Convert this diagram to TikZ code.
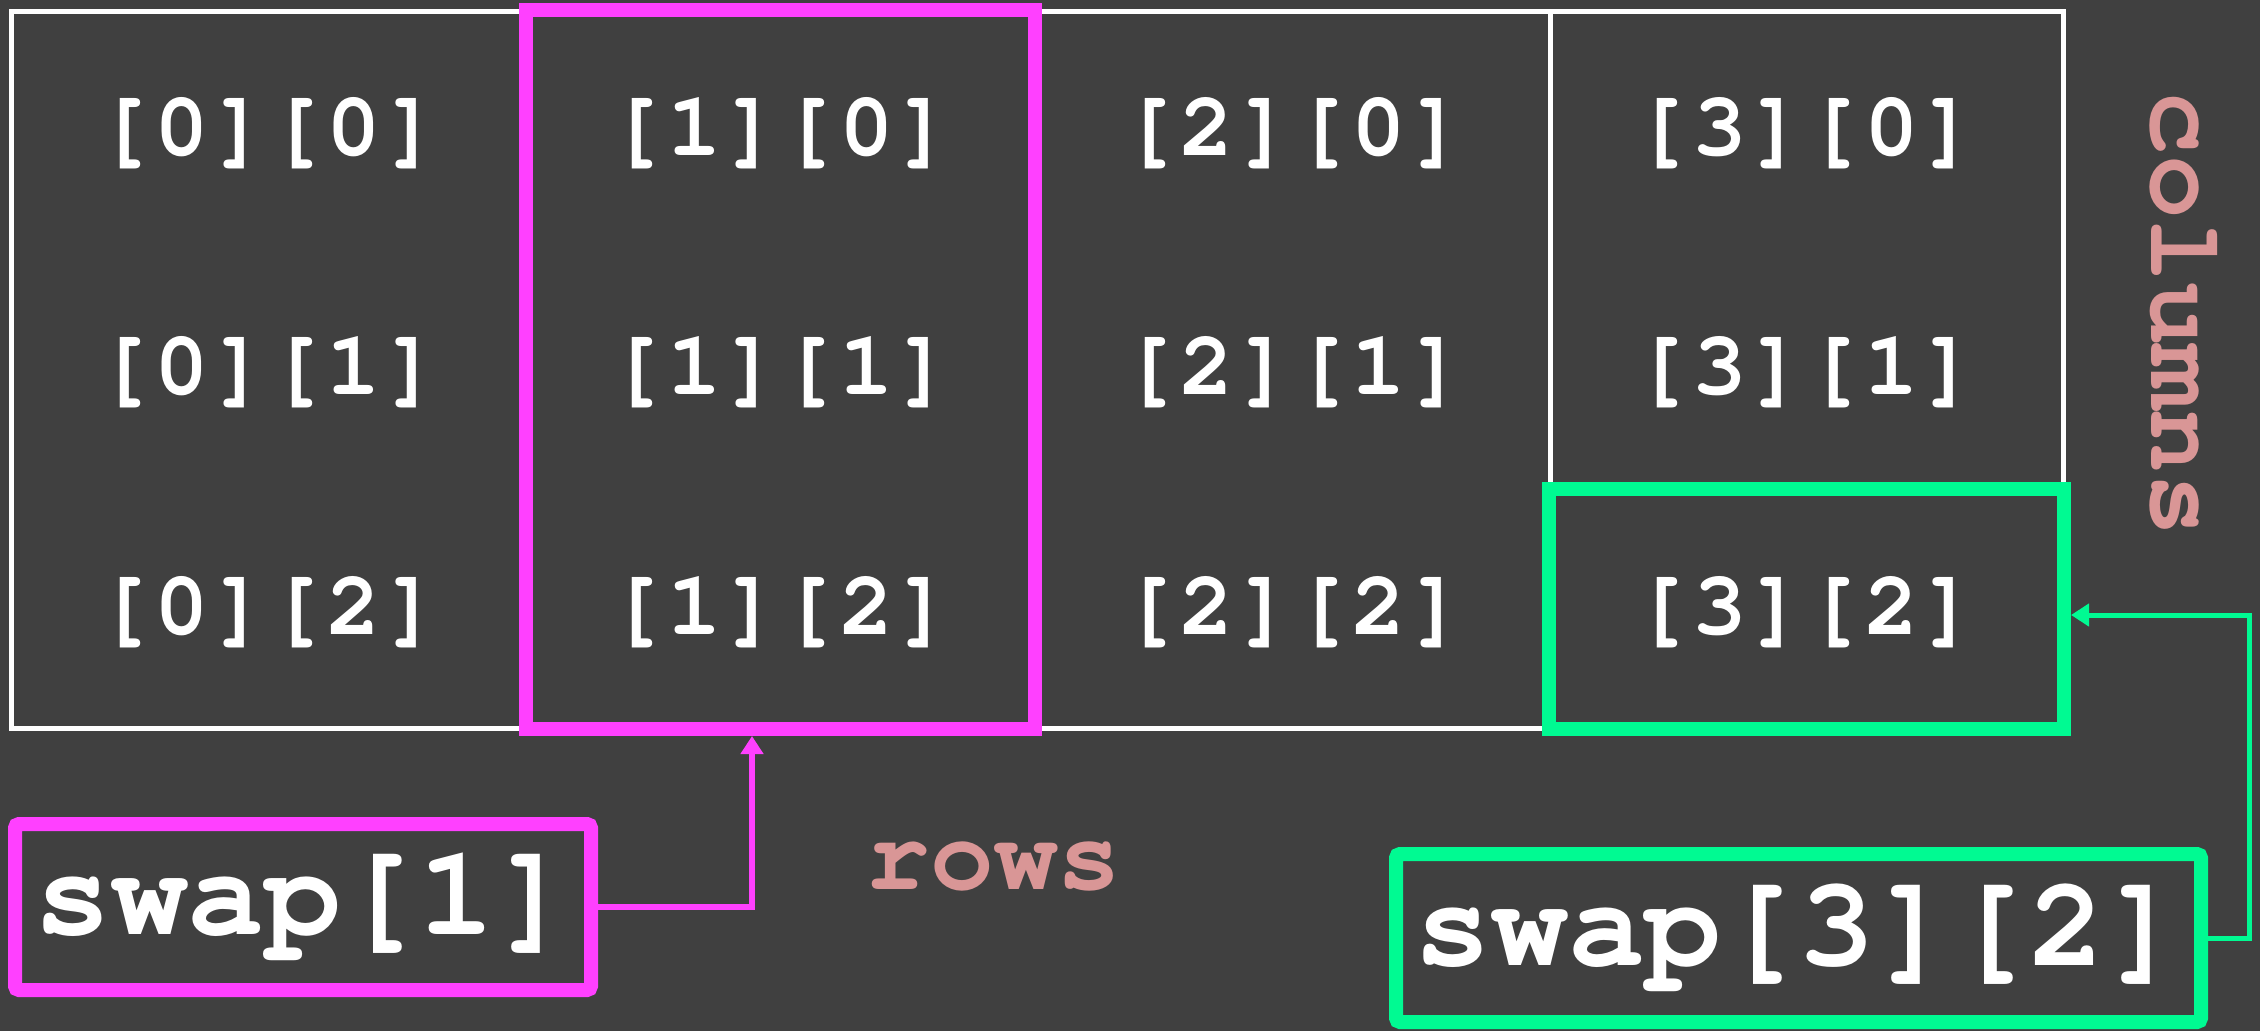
\documentclass[tikz,border=0pt]{standalone}
\usepackage{fontspec}
\newfontfamily\mono{texgyrecursor}[Extension=.otf, UprightFont=*-regular, BoldFont=*-bold]
\newfontfamily\monosp{texgyrecursor}[Extension=.otf, UprightFont=*-regular, BoldFont=*-bold, LetterSpace=3]
\usetikzlibrary{arrows.meta}
\definecolor{bg}{HTML}{404040}
\definecolor{mag}{HTML}{FF40FF}
\definecolor{grn}{HTML}{00FA92}
\definecolor{pinkt}{HTML}{D99696}
\tikzset{
  colbox/.style={draw=white, line width=4.5pt, minimum width=513pt, minimum height=717pt, inner sep=0pt},
  celltext/.style={text=white, font=\monosp\bfseries\fontsize{91}{91}\selectfont, inner sep=0pt},
  hilite/.style={draw=#1, line width=14pt, inner sep=0pt},
  swapbox/.style={draw=#1, line width=14pt, rounded corners=4pt, inner sep=0pt, text=white,
    font=\mono\bfseries\fontsize{128}{128}\selectfont},
  axislabel/.style={text=pinkt, font=\mono\bfseries\fontsize{106}{106}\selectfont, inner sep=0pt},
  conn/.style={draw=#1, line width=6pt, -{Triangle[width=22pt,length=18pt]}},
}
\begin{document}
\begin{tikzpicture}[x=1pt,y=-1pt]
\fill[bg] (0,0) rectangle (2260,1031);
\useasboundingbox (0,0) rectangle (2260,1031);
% columns
\foreach \i in {0,1,2,3} {
  \node[colbox] (col\i) at ({11.5+513*\i+256.5},370) {};
}
% cells
\foreach \i in {0,1,2,3} {
  \foreach \j/\y in {0/133,1/372,2/612} {
    \node[celltext] (c\i\j) at ({268+512.5*\i},\y) {[\i][\j]};
  }
}
% highlights
\node[hilite=mag, minimum width=509pt, minimum height=719pt] (hcol1) at (780.5,369.5) {};
\node[hilite=grn, minimum width=515pt, minimum height=240pt] (hc32) at (1806.5,609) {};
% swap boxes
\node[swapbox=mag, minimum width=576pt, minimum height=166pt] (sw1) at (303,907) {swap[1]};
\node[swapbox=grn, minimum width=805pt, minimum height=168pt] (sw32) at (1798.5,938) {swap[3][2]};
% axis labels
\node[axislabel] (rows) at (994,866) {rows};
\node[axislabel, rotate=-90] (cols) at (2184,314) {columns};
% connectors
\coordinate (mturn) at (752,907);
\draw[conn=mag] (sw1.east) -- (mturn) -- (mturn |- hcol1.south);
\coordinate (gturn) at (2249,615);
\draw[conn=grn, line width=5pt] (sw32.east) -| (gturn) -- (gturn -| hc32.east);
\end{tikzpicture}
\end{document}
